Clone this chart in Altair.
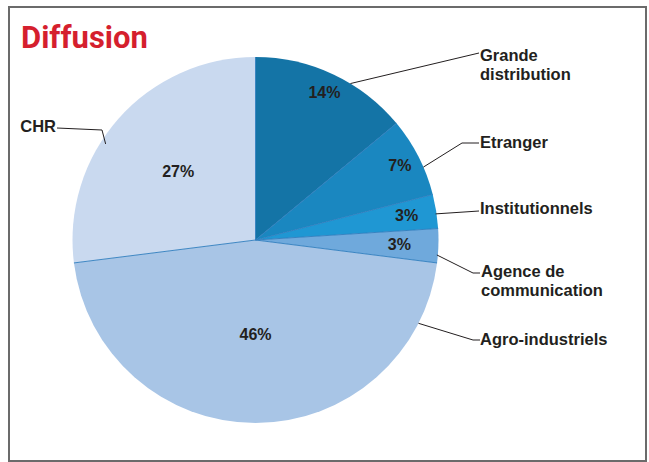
import math
import altair as alt
import pandas as pd

# ---------------- data ----------------
categories = ["Grande distribution", "Etranger", "Institutionnels",
              "Agence de communication", "Agro-industriels", "CHR"]
label_text = ["Grande\ndistribution", "Etranger", "Institutionnels",
              "Agence de\ncommunication", "Agro-industriels", "CHR"]
shares = [14, 7, 3, 3, 46, 27]

# ---------------- styles / layout ----------------
colors = ["#1474a6", "#1a87c0", "#1f97d3", "#6fa9dc", "#a8c5e6", "#c9d9ef"]
PAD_L, PAD_T, PAD_R, PAD_B = 9, 7, 3, 1
W, H = 649 - PAD_L - PAD_R, 462 - PAD_T - PAD_B
CX, CY, R = 246.5, 233.0, 183.0
pct_radius = [162, 162, 153, 144, 95, 103]
anchor_frac = [0.62, 0.64, 0.57, 0.77, 0.12, 0.41]
anchor_r = [183, 183, 182, 182, 183, 178]
elbow_pts = [(479, 53), (462, 143), (479, 211), (473, 273), (473, 340), (102, 130)]
end_pts = [(479, 53), (479, 143), (479, 211), (480, 273), (480, 340), (57, 128)]
label_pos = [(480, 61), (480, 148), (480, 214), (481, 277), (480, 345), (56, 132)]
label_align = ["left", "left", "left", "left", "left", "right"]


def polar(angle_deg, r):
    t = math.radians(angle_deg)
    return CX + r * math.sin(t), CY - r * math.cos(t)


total = sum(shares)
starts, ends = [], []
acc = 0.0
for v in shares:
    starts.append(acc / total * 360.0)
    acc += v
    ends.append(acc / total * 360.0)

pie_df = pd.DataFrame({"cat": categories, "share": shares,
                       "idx": list(range(len(categories)))})

# percent labels
pct_rows = []
for i, v in enumerate(shares):
    mid = (starts[i] + ends[i]) / 2
    x, y = polar(mid, pct_radius[i])
    pct_rows.append({"x": x, "y": y, "t": f"{v}%"})
pct_df = pd.DataFrame(pct_rows)

# separators between slices
sep_rows = []
for a in starts:
    x2, y2 = polar(a, R)
    sep_rows.append({"x": CX, "y": CY, "x2": x2, "y2": y2})
sep_df = pd.DataFrame(sep_rows)

# leader lines
lead_rows = []
for i in range(len(categories)):
    ang = starts[i] + anchor_frac[i] * (ends[i] - starts[i])
    sx, sy = polar(ang, anchor_r[i])
    pts = [(sx, sy),
           (elbow_pts[i][0] - PAD_L, elbow_pts[i][1] - PAD_T),
           (end_pts[i][0] - PAD_L, end_pts[i][1] - PAD_T)]
    for k, (px, py) in enumerate(pts):
        lead_rows.append({"cat": categories[i], "k": k, "x": px, "y": py})
lead_df = pd.DataFrame(lead_rows)

lab_rows = []
for i in range(len(categories)):
    lab_rows.append({"t": label_text[i], "x": label_pos[i][0] - PAD_L,
                     "y": label_pos[i][1] - PAD_T, "al": label_align[i]})
lab_df = pd.DataFrame(lab_rows)

X = lambda f: alt.X(f, type="quantitative", scale=None, axis=None)
Y = lambda f: alt.Y(f, type="quantitative", scale=None, axis=None)

arcs = alt.Chart(pie_df).mark_arc(outerRadius=R, stroke=None).encode(
    theta=alt.Theta("share:Q", stack=True),
    order=alt.Order("idx:Q", sort="ascending"),
    color=alt.Color("cat:N", scale=alt.Scale(domain=categories, range=colors), legend=None),
    x=alt.value(CX), y=alt.value(CY),
)

seps = alt.Chart(sep_df).mark_rule(color="#2e7dbd", strokeWidth=0.9).encode(
    x=X("x"), y=Y("y"), x2="x2:Q", y2="y2:Q"
)

leaders = alt.Chart(lead_df).mark_line(color="#231f20", strokeWidth=1).encode(
    x=X("x"), y=Y("y"), detail="cat:N", order="k:Q"
)

pct = alt.Chart(pct_df).mark_text(
    font="Liberation Sans", fontWeight="bold", fontSize=16, color="#231f20",
    align="center", baseline="middle"
).encode(x=X("x"), y=Y("y"), text="t:N")

labels_left = alt.Chart(lab_df[lab_df["al"] == "left"]).mark_text(
    font="Liberation Sans", fontWeight="bold", fontSize=16.5, color="#231f20",
    align="left", baseline="alphabetic", lineBreak="\n", lineHeight=18.5
).encode(x=X("x"), y=Y("y"), text="t:N")

labels_right = alt.Chart(lab_df[lab_df["al"] == "right"]).mark_text(
    font="Liberation Sans", fontWeight="bold", fontSize=16.5, color="#231f20",
    align="right", baseline="alphabetic", lineBreak="\n", lineHeight=18.5
).encode(x=X("x"), y=Y("y"), text="t:N")

title = alt.Chart(pd.DataFrame({"t": ["Diffusion"]})).mark_text(
    font="Roboto", fontWeight="bold", fontSize=31, color="#d51f2e",
    align="left", baseline="alphabetic"
).encode(x=alt.value(21 - PAD_L), y=alt.value(48 - PAD_T), text="t:N")

chart = alt.layer(arcs, seps, leaders, pct, labels_left, labels_right, title).properties(
    width=W, height=H, autosize="none",
    padding={"left": PAD_L, "top": PAD_T, "right": PAD_R, "bottom": PAD_B},
    background="white",
).configure_view(stroke="#6b6b6b", strokeWidth=2)

chart.save("out.html", embed_options={"renderer": "svg", "actions": False})
